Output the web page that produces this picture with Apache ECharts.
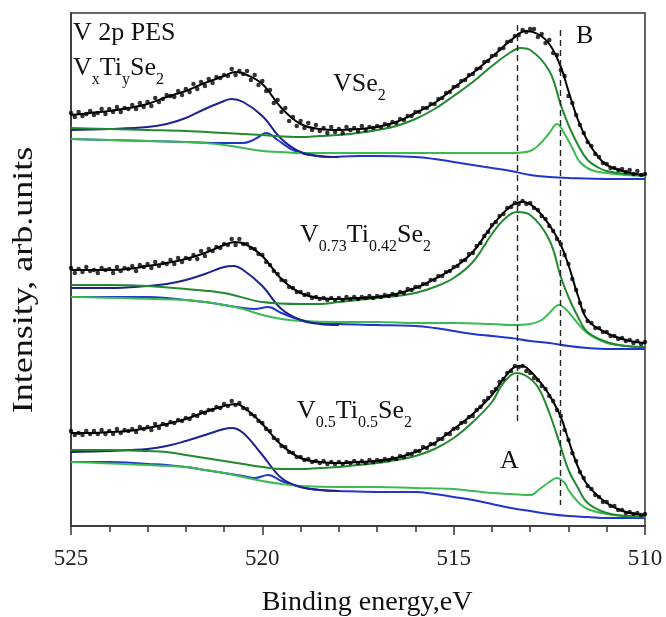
<!DOCTYPE html>
<html>
<head>
<meta charset="utf-8">
<script src="https://cdn.jsdelivr.net/npm/echarts@6.0.0/dist/echarts.min.js"></script>
<style>
  html, body { margin: 0; padding: 0; background: #fff; }
  #chart { width: 666px; height: 617px; }
</style>
</head>
<body>
<div id="chart"></div>
<script>
// V 2p photoemission spectra of VSe2, V0.73Ti0.42Se2 and V0.5Ti0.5Se2 with fitted components.
// Intensities are in arbitrary units; the three spectra are stacked with vertical offsets.

// Measurement grid for the data points (binding energy, eV), 525.0 -> 510.0 in 0.1 eV steps
const energyGrid = Array.from({ length: 151 }, (_, i) => +(525 - i * 0.1).toFixed(1));

// ---- VSe2 (top) ----
const vse2Points = [
  413, 409, 414, 410, 412, 415, 411, 413, 417, 412,
  417, 414, 419, 414, 418, 417, 421, 417, 423, 419,
  424, 420, 428, 424, 427, 431, 430, 429, 435, 431,
  437, 434, 442, 437, 444, 440, 447, 443, 449, 448,
  451, 450, 457, 451, 455, 452, 455, 446, 451, 441,
  445, 435, 436, 423, 426, 414, 418, 405, 409, 400,
  405, 398, 403, 396, 401, 395, 398, 393, 399, 394,
  397, 393, 399, 396, 398, 395, 400, 396, 399, 398,
  400, 399, 402, 401, 404, 403, 407, 406, 410, 410,
  414, 414, 418, 418, 422, 422, 427, 428, 433, 434,
  439, 440, 445, 446, 451, 452, 457, 458, 464, 465,
  470, 471, 477, 478, 484, 485, 490, 491, 496, 494,
  497, 497, 489, 492, 483, 486, 473, 471, 456, 450,
  430, 423, 411, 401, 393, 384, 380, 372, 369, 363,
  362, 358, 358, 356, 357, 354, 356, 352, 355, 351,
  352
];
const vse2Fit = [[525,411],[524.5,413],[524,415],[523.5,418],[523,422],[522.5,429],[522,435],[521.5,443],[521,450],[520.7,454],[520.4,451],[520,442],[519.5,418],[519,402],[518.5,397],[518,396],[517.5,397],[517,399],[516.5,404],[516,413],[515.5,423],[515,438],[514.5,453],[514,469],[513.5,486],[513.1,495],[512.8,492],[512.5,482],[512.2,459],[512,435],[511.75,406],[511.5,385],[511.2,368],[511,361],[510.5,354],[510,351]];
const vse2A12 = [[525,396],[524,397],[523,399],[522.5,402],[522,408],[521.5,417],[521,425],[520.8,427],[520.5,424],[520,410],[519.5,387],[519,374],[518.5,370],[518,369]];
const vse2B12 = [[525,387],[524,386],[523,385],[522,384],[521,383],[520.5,383],[520.3,385],[520.1,389],[519.9,393],[519.6,386],[519.2,376],[518.75,371],[518.3,369],[517.5,370],[517,370],[516,369],[515.5,367],[515,364],[514.5,361],[514,358],[513.5,355],[513,351],[512.5,349],[512,348],[511,347],[510,347]];
const vse2B32 = [[525,387],[522,384],[521.5,383],[521,381],[520.5,378],[520,375],[519.5,374],[519,373],[518,373],[516,373],[514,373],[513.5,373],[513,375],[512.75,382],[512.5,393],[512.3,402],[512.1,392],[511.9,378],[511.7,364],[511.4,356],[511,353],[510.5,351],[510,350]];
const vse2A32 = [[525,398],[524,397],[523,396],[522,395],[521,393],[520,391],[519,389],[518.5,390],[518,391],[517.5,393],[517,396],[516.5,400],[516,407],[515.5,417],[515,430],[514.5,444],[514,460],[513.5,474],[513.25,478],[513,476],[512.5,455],[512.2,421],[512,401],[511.75,381],[511.5,366],[511.2,358],[511,355],[510.5,352],[510,351]];

// ---- V0.73Ti0.42Se2 (middle) ----
const midPoints = [
  258, 253, 257, 254, 259, 255, 256, 253, 258, 256,
  257, 253, 259, 255, 258, 257, 260, 255, 261, 259,
  262, 258, 264, 260, 263, 262, 266, 262, 268, 264,
  268, 267, 271, 267, 275, 270, 277, 275, 279, 278,
  282, 281, 287, 281, 287, 282, 282, 278, 277, 272,
  271, 264, 261, 255, 252, 246, 245, 239, 238, 234,
  234, 231, 232, 228, 229, 227, 228, 226, 228, 226,
  228, 226, 229, 227, 229, 227, 229, 228, 230, 228,
  230, 229, 231, 230, 232, 231, 234, 233, 237, 236,
  239, 239, 242, 242, 246, 246, 250, 250, 254, 255,
  259, 260, 265, 266, 272, 273, 280, 283, 290, 294,
  301, 304, 310, 312, 318, 319, 323, 322, 325, 322,
  323, 318, 316, 310, 307, 300, 295, 287, 282, 271,
  262, 247, 236, 223, 215, 205, 203, 198, 198, 194,
  194, 190, 190, 187, 188, 185, 186, 183, 185, 182,
  184
];
const midFit = [[525,256],[524,256],[523.5,257],[523,260],[522.5,263],[522,267],[521.5,273],[521,281],[520.7,284],[520.4,281],[520,270],[519.5,247],[519,233],[518.5,228],[518,227],[517.5,228],[517,229],[516.5,232],[516,238],[515.5,247],[515,258],[514.5,274],[514,300],[513.5,320],[513.2,324],[512.9,319],[512.5,301],[512.2,281],[512,261],[511.75,230],[511.5,206],[511,193],[510.5,186],[510,183]];
const midA12 = [[525,238],[524,238],[523,240],[522.5,242],[522,246],[521.5,252],[521,259],[520.75,260],[520.5,256],[520,240],[519.5,217],[519,206],[518.5,202],[518,201]];
const midB12 = [[525,229],[524,229],[523,229],[522.5,228],[522,226],[521.5,224],[521,221],[520.5,218],[520.2,217],[519.85,219],[519.5,213],[519,206],[518.5,203],[518,202],[517,201],[516,200],[515.5,198],[515,195],[514.5,192],[514,190],[513.5,188],[513,185],[512.5,183],[512,180],[511.5,178],[511,177],[510,177]];
const midB32 = [[525,229],[522,226],[521.5,224],[521,221],[520.5,217],[520,211],[519.5,207],[519,205],[518,204],[517,204],[516,203],[515,203],[514,202],[513.5,201],[513,202],[512.7,206],[512.5,213],[512.25,221],[512.05,216],[511.85,207],[511.65,198],[511.4,190],[511,183],[510.5,180],[510,179]];
const midA32 = [[525,241],[524,241],[523,240],[522,237],[521,233],[520,224],[519,222],[518.5,222],[518,224],[517.5,226],[517,228],[516.5,230],[516,233],[515.5,239],[515,248],[514.5,264],[514,292],[513.7,306],[513.35,314],[513,311],[512.5,286],[512.2,249],[512,229],[511.75,209],[511.5,194],[511,184],[510.5,180],[510,179]];

// ---- V0.5Ti0.5Se2 (bottom) ----
const lowPoints = [
  95, 91, 93, 91, 95, 92, 95, 92, 96, 92,
  95, 92, 97, 93, 96, 95, 97, 94, 99, 97,
  99, 96, 102, 98, 102, 101, 104, 103, 106, 105,
  108, 107, 111, 110, 114, 113, 116, 116, 119, 118,
  122, 120, 125, 121, 123, 118, 117, 112, 110, 105,
  103, 97, 95, 88, 86, 80, 79, 74, 73, 69,
  69, 66, 67, 64, 65, 63, 65, 62, 64, 62,
  64, 62, 64, 63, 65, 63, 65, 63, 66, 64,
  66, 65, 67, 66, 68, 67, 70, 69, 72, 72,
  75, 75, 79, 78, 82, 82, 87, 87, 92, 92,
  97, 98, 103, 104, 109, 110, 116, 119, 125, 128,
  134, 137, 144, 147, 153, 155, 160, 159, 160, 155,
  153, 148, 146, 140, 137, 130, 125, 116, 110, 96,
  86, 73, 65, 54, 48, 40, 37, 31, 29, 24,
  24, 20, 20, 16, 16, 13, 14, 12, 13, 11,
  12
];
const lowFit = [[525,93],[524.5,93],[524,94],[523.5,95],[523,98],[522.5,102],[522,107],[521.5,114],[521,120],[520.7,122],[520.4,116],[520,102],[519.5,81],[519,68],[518.5,64],[518,63],[517.5,64],[517,65],[516.5,68],[516,74],[515.5,83],[515,97],[514.5,112],[514,131],[513.7,147],[513.4,159],[513.2,160],[513,155],[512.7,142],[512.5,131],[512.2,109],[512,86],[511.75,59],[511.5,41],[511,23],[510.5,14],[510,11]];
const lowA12 = [[525,74],[524,75],[523.5,76],[523,77],[522.5,80],[522,85],[521.5,91],[521,97],[520.8,98],[520.5,93],[520,71],[519.5,48],[519,39],[518.5,36],[518,35]];
const lowB12 = [[525,64],[524,64],[523,62],[522.5,61],[522,59],[521.5,56],[521,53],[520.5,50],[520.2,48],[519.85,51],[519.5,45],[519,39],[518.5,36],[518,35],[517,34],[516,34],[515.5,32],[515,29],[514.5,26],[514,22],[513.5,18],[513,15],[512.5,12],[512,10],[511.5,9],[511,8],[510,8]];
const lowB32 = [[525,64],[522,59],[521.5,56],[521,53],[520.5,49],[520,45],[519.5,42],[519,40],[518,39],[517,39],[516,38],[515,37],[514.5,35],[514,33],[513.5,32],[513,31],[512.75,37],[512.5,44],[512.3,48],[512.1,43],[512,36],[511.75,24],[511.5,17],[511,12],[510.5,10],[510,9]];
const lowA32 = [[525,76],[524,76],[523,75],[522.5,74],[522,71],[521.5,68],[521,65],[520.5,62],[520,59],[519.5,57],[519,57],[518.5,58],[518,59],[517.5,61],[517,63],[516.5,66],[516,70],[515.5,77],[515,88],[514.5,104],[514,124],[513.7,143],[513.35,153],[513.1,150],[512.8,139],[512.5,113],[512.2,79],[512,56],[511.75,38],[511.5,23],[511,13],[510.5,10],[510,9]];

// Peak positions A and B (eV) with the vertical extent of their guide lines
const guideA = { energy: 513.34, from: 501, to: 101 };
const guideB = { energy: 512.22, from: 496, to: 21 };

// Axis ticks
const xTicks = { min: 510, max: 525, step: 5 };

const SERIF = '"Liberation Serif", "Times New Roman", serif';
const COLORS = {
  a12: '#1c2290',
  b12: '#2036cc',
  b32: '#3cba52',
  a32: '#23892e',
  fit: '#000000',
  dots: '#000000'
};

function component(data, color) {
  return {
    type: 'line', data, smooth: 0.4, symbol: 'none',
    lineStyle: { color, width: 2 }, z: 2, silent: true
  };
}
function points(values) {
  return {
    type: 'scatter', data: values.map((v, i) => [energyGrid[i], v]),
    symbol: 'circle', symbolSize: 4.5, itemStyle: { color: COLORS.dots }, z: 3, silent: true
  };
}
function fit(data) {
  return {
    type: 'line', data, smooth: 0.4, symbol: 'none',
    lineStyle: { color: COLORS.fit, width: 2 }, z: 4, silent: true
  };
}

const spectra = [
  { pts: vse2Points, fit: vse2Fit, a12: vse2A12, b12: vse2B12, b32: vse2B32, a32: vse2A32 },
  { pts: midPoints, fit: midFit, a12: midA12, b12: midB12, b32: midB32, a32: midA32 },
  { pts: lowPoints, fit: lowFit, a12: lowA12, b12: lowB12, b32: lowB32, a32: lowA32 }
];

const series = [];
spectra.forEach(s => {
  series.push(component(s.b12, COLORS.b12));
  series.push(component(s.b32, COLORS.b32));
  series.push(component(s.a12, COLORS.a12));
  series.push(component(s.a32, COLORS.a32));
  series.push(points(s.pts));
  series.push(fit(s.fit));
});

// Dashed guide lines through peaks A and B
series.push({
  type: 'line', data: [], z: 5, silent: true,
  markLine: {
    silent: true, symbol: 'none', animation: false,
    label: { show: false },
    lineStyle: { color: '#222', width: 1.4, type: [6, 4] },
    data: [
      [{ coord: [guideA.energy, guideA.from] }, { coord: [guideA.energy, guideA.to] }],
      [{ coord: [guideB.energy, guideB.from] }, { coord: [guideB.energy, guideB.to] }]
    ]
  }
});

const main = { fontSize: 26, fontFamily: SERIF, color: '#111', lineHeight: 40 };
const sub = { fontSize: 16, fontFamily: SERIF, color: '#111', lineHeight: 16, verticalAlign: 'bottom' };
const rich = { m: main, s: sub };

function label(left, top, text) {
  return { type: 'text', left, top, silent: true, style: { text, rich, fill: '#111' } };
}
function plain(left, top, text) {
  return { type: 'text', left, top, silent: true, style: { text, font: '26px ' + SERIF, fill: '#111' } };
}

const chart = echarts.init(document.getElementById('chart'), null, { renderer: 'canvas' });
chart.setOption({
  animation: false,
  backgroundColor: '#fff',
  grid: { left: 71, right: 21, top: 13, bottom: 91, show: true, borderColor: '#333', borderWidth: 1.5, backgroundColor: 'transparent' },
  xAxis: {
    type: 'value', min: xTicks.min, max: xTicks.max, interval: xTicks.step, inverse: true,
    axisLine: { show: true, lineStyle: { color: '#333', width: 1.5 } },
    axisTick: { show: true, inside: false, length: 9, lineStyle: { color: '#333', width: 1.5 } },
    minorTick: { show: true, splitNumber: 5, length: 6, lineStyle: { color: '#333', width: 1.5 } },
    axisLabel: { fontSize: 23, fontFamily: SERIF, color: '#222', margin: 21 },
    splitLine: { show: false }
  },
  yAxis: {
    type: 'value', min: 0, max: 513,
    axisLine: { show: true, lineStyle: { color: '#333', width: 1.5 } },
    axisTick: { show: false }, axisLabel: { show: false }, splitLine: { show: false }
  },
  graphic: [
    plain(73, 20, 'V 2p PES'),
    label(73, 55, '{m|V}{s|x}{m|Ti}{s|y}{m|Se}{s|2}'),
    label(333, 71, '{m|VSe}{s|2}'),
    label(300, 222, '{m|V}{s|0.73}{m|Ti}{s|0.42}{m|Se}{s|2}'),
    label(297, 398, '{m|V}{s|0.5}{m|Ti}{s|0.5}{m|Se}{s|2}'),
    plain(500, 448, 'A'),
    plain(576, 23, 'B'),
    {
      type: 'text', x: 24, y: 280, rotation: Math.PI / 2, scaleX: 1.2, silent: true,
      style: { text: 'Intensity, arb.units', font: '30px ' + SERIF, fill: '#111', align: 'center', verticalAlign: 'middle' }
    },
    {
      type: 'text', x: 367, y: 603, silent: true,
      style: { text: 'Binding energy,eV', font: '28px ' + SERIF, fill: '#111', align: 'center', verticalAlign: 'middle' }
    }
  ],
  series
});
</script>
</body>
</html>
